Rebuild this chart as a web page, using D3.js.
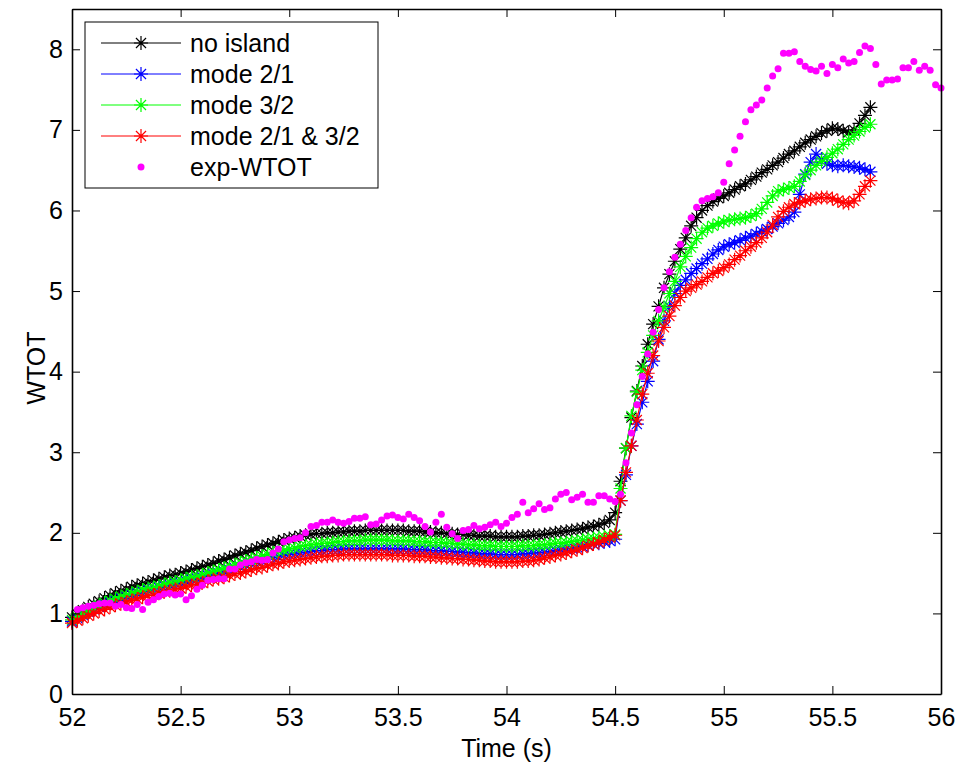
<!DOCTYPE html>
<html>
<head>
<meta charset="utf-8">
<script src="https://cdn.jsdelivr.net/npm/d3@7"></script>
<style>
  body { margin: 0; background: #fff; }
  svg { display: block; }
  text { font-family: "Liberation Sans", Arial, sans-serif; fill: #000; }
</style>
</head>
<body>
<svg id="chart"></svg>
<script>
// ======================
// DATA
// ======================

// sample times, 0.025 s apart; simulations use [0..147], experiment uses [1..160]
const timeAxis = [
  52.000, 52.025, 52.050, 52.075, 52.100, 52.125, 52.150, 52.175,
  52.200, 52.225, 52.250, 52.275, 52.300, 52.325, 52.350, 52.375,
  52.400, 52.425, 52.450, 52.475, 52.500, 52.525, 52.550, 52.575,
  52.600, 52.625, 52.650, 52.675, 52.700, 52.725, 52.750, 52.775,
  52.800, 52.825, 52.850, 52.875, 52.900, 52.925, 52.950, 52.975,
  53.000, 53.025, 53.050, 53.075, 53.100, 53.125, 53.150, 53.175,
  53.200, 53.225, 53.250, 53.275, 53.300, 53.325, 53.350, 53.375,
  53.400, 53.425, 53.450, 53.475, 53.500, 53.525, 53.550, 53.575,
  53.600, 53.625, 53.650, 53.675, 53.700, 53.725, 53.750, 53.775,
  53.800, 53.825, 53.850, 53.875, 53.900, 53.925, 53.950, 53.975,
  54.000, 54.025, 54.050, 54.075, 54.100, 54.125, 54.150, 54.175,
  54.200, 54.225, 54.250, 54.275, 54.300, 54.325, 54.350, 54.375,
  54.400, 54.425, 54.450, 54.475, 54.500, 54.525, 54.550, 54.575,
  54.600, 54.625, 54.650, 54.675, 54.700, 54.725, 54.750, 54.775,
  54.800, 54.825, 54.850, 54.875, 54.900, 54.925, 54.950, 54.975,
  55.000, 55.025, 55.050, 55.075, 55.100, 55.125, 55.150, 55.175,
  55.200, 55.225, 55.250, 55.275, 55.300, 55.325, 55.350, 55.375,
  55.400, 55.425, 55.450, 55.475, 55.500, 55.525, 55.550, 55.575,
  55.600, 55.625, 55.650, 55.675, 55.700, 55.725, 55.750, 55.775,
  55.800, 55.825, 55.850, 55.875, 55.900, 55.925, 55.950, 55.975,
  56.000
];

const noIsland = [
  0.95, 0.99, 1.04, 1.08, 1.12, 1.15, 1.19, 1.22, 1.25, 1.28, 1.30, 1.33,
  1.35, 1.37, 1.39, 1.41, 1.43, 1.45, 1.47, 1.48, 1.50, 1.52, 1.54, 1.56,
  1.58, 1.60, 1.62, 1.65, 1.67, 1.69, 1.72, 1.74, 1.76, 1.78, 1.81, 1.83,
  1.85, 1.87, 1.89, 1.91, 1.93, 1.94, 1.96, 1.97, 1.98, 1.99, 1.99, 2.00,
  2.00, 2.01, 2.01, 2.02, 2.02, 2.02, 2.03, 2.03, 2.03, 2.03, 2.03, 2.03,
  2.03, 2.03, 2.02, 2.02, 2.02, 2.01, 2.01, 2.00, 2.00, 1.99, 1.99, 1.98,
  1.98, 1.97, 1.97, 1.96, 1.96, 1.96, 1.95, 1.95, 1.95, 1.95, 1.95, 1.96,
  1.96, 1.97, 1.97, 1.98, 1.99, 2.00, 2.01, 2.02, 2.03, 2.04, 2.05, 2.07,
  2.08, 2.10, 2.12, 2.16, 2.25, 2.64, 3.05, 3.43, 3.76, 4.07, 4.34, 4.59,
  4.81, 5.04, 5.21, 5.37, 5.52, 5.66, 5.81, 5.91, 6.00, 6.06, 6.11, 6.15,
  6.18, 6.22, 6.26, 6.30, 6.33, 6.38, 6.42, 6.47, 6.51, 6.56, 6.60, 6.65,
  6.70, 6.74, 6.79, 6.84, 6.88, 6.92, 6.96, 6.99, 7.02, 7.01, 6.99, 6.97,
  7.00, 7.08, 7.18, 7.28
];

const mode21 = [
  0.90, 0.94, 0.98, 1.02, 1.05, 1.08, 1.11, 1.14, 1.16, 1.19, 1.21, 1.23,
  1.25, 1.27, 1.29, 1.31, 1.32, 1.34, 1.35, 1.37, 1.38, 1.40, 1.42, 1.43,
  1.45, 1.47, 1.49, 1.50, 1.52, 1.54, 1.56, 1.58, 1.60, 1.62, 1.64, 1.65,
  1.67, 1.69, 1.70, 1.72, 1.73, 1.74, 1.75, 1.76, 1.77, 1.78, 1.78, 1.79,
  1.79, 1.79, 1.80, 1.80, 1.80, 1.80, 1.80, 1.80, 1.80, 1.80, 1.80, 1.80,
  1.80, 1.80, 1.79, 1.79, 1.79, 1.79, 1.78, 1.78, 1.78, 1.77, 1.77, 1.76,
  1.76, 1.75, 1.75, 1.74, 1.74, 1.74, 1.73, 1.73, 1.73, 1.73, 1.73, 1.74,
  1.74, 1.75, 1.75, 1.76, 1.77, 1.78, 1.79, 1.80, 1.81, 1.82, 1.83, 1.85,
  1.86, 1.87, 1.89, 1.90, 1.92, 2.40, 2.72, 3.08, 3.35, 3.62, 3.88, 4.13,
  4.40, 4.63, 4.81, 4.97, 5.07, 5.14, 5.22, 5.28, 5.34, 5.40, 5.46, 5.51,
  5.55, 5.58, 5.60, 5.63, 5.66, 5.68, 5.71, 5.74, 5.77, 5.80, 5.84, 5.88,
  5.92, 5.98, 6.20, 6.45, 6.60, 6.70, 6.64, 6.58, 6.56, 6.55, 6.56, 6.55,
  6.54, 6.53, 6.51, 6.48
];

const mode32 = [
  0.92, 0.96, 1.00, 1.04, 1.07, 1.10, 1.13, 1.16, 1.18, 1.21, 1.23, 1.25,
  1.27, 1.29, 1.31, 1.32, 1.34, 1.36, 1.38, 1.39, 1.41, 1.43, 1.45, 1.46,
  1.48, 1.50, 1.52, 1.54, 1.56, 1.58, 1.60, 1.63, 1.65, 1.67, 1.69, 1.71,
  1.73, 1.75, 1.77, 1.78, 1.80, 1.81, 1.83, 1.84, 1.85, 1.86, 1.87, 1.87,
  1.88, 1.89, 1.89, 1.90, 1.90, 1.90, 1.91, 1.91, 1.91, 1.91, 1.91, 1.90,
  1.90, 1.90, 1.90, 1.89, 1.89, 1.89, 1.88, 1.88, 1.88, 1.87, 1.87, 1.86,
  1.86, 1.85, 1.85, 1.84, 1.84, 1.84, 1.83, 1.83, 1.83, 1.83, 1.83, 1.84,
  1.84, 1.84, 1.85, 1.85, 1.86, 1.87, 1.87, 1.88, 1.89, 1.90, 1.91, 1.92,
  1.93, 1.94, 1.95, 1.96, 1.98, 2.55, 3.05, 3.45, 3.75, 4.02, 4.24, 4.45,
  4.63, 4.80, 4.97, 5.12, 5.30, 5.43, 5.54, 5.65, 5.73, 5.78, 5.81, 5.84,
  5.86, 5.88, 5.89, 5.90, 5.91, 5.93, 5.96, 6.02, 6.10, 6.18, 6.24, 6.26,
  6.28, 6.30, 6.36, 6.44, 6.50, 6.56, 6.61, 6.66, 6.71, 6.76, 6.82, 6.88,
  6.93, 6.98, 7.03, 7.07
];

const mode21and32 = [
  0.88, 0.91, 0.94, 0.97, 1.00, 1.03, 1.05, 1.08, 1.10, 1.12, 1.14, 1.16,
  1.18, 1.20, 1.22, 1.23, 1.25, 1.27, 1.28, 1.30, 1.31, 1.33, 1.35, 1.36,
  1.38, 1.40, 1.42, 1.43, 1.45, 1.47, 1.49, 1.50, 1.52, 1.54, 1.56, 1.57,
  1.59, 1.61, 1.62, 1.64, 1.65, 1.66, 1.67, 1.68, 1.69, 1.70, 1.71, 1.71,
  1.72, 1.72, 1.73, 1.73, 1.73, 1.73, 1.73, 1.73, 1.73, 1.73, 1.73, 1.72,
  1.72, 1.72, 1.72, 1.71, 1.71, 1.71, 1.70, 1.70, 1.69, 1.69, 1.68, 1.68,
  1.67, 1.67, 1.66, 1.66, 1.65, 1.65, 1.64, 1.64, 1.64, 1.64, 1.64, 1.65,
  1.65, 1.66, 1.67, 1.69, 1.70, 1.72, 1.73, 1.75, 1.77, 1.79, 1.81, 1.84,
  1.86, 1.88, 1.91, 1.94, 1.97, 2.40, 2.75, 3.08, 3.40, 3.72, 3.98, 4.20,
  4.38, 4.55, 4.69, 4.82, 4.92, 5.00, 5.04, 5.08, 5.12, 5.17, 5.22, 5.25,
  5.29, 5.33, 5.39, 5.44, 5.50, 5.55, 5.60, 5.66, 5.73, 5.82, 5.92, 5.99,
  6.04, 6.08, 6.10, 6.12, 6.14, 6.15, 6.16, 6.16, 6.15, 6.12, 6.10, 6.09,
  6.12, 6.20, 6.30, 6.37
];

const expWtot = [
  1.05, 1.07, 1.09, 1.10, 1.12, 1.13, 1.13, 1.09, 1.11, 1.07, 1.06, 1.11,
  1.05, 1.14, 1.17, 1.21, 1.24, 1.25, 1.23, 1.24, 1.17, 1.22, 1.30, 1.35,
  1.41, 1.42, 1.43, 1.43, 1.55, 1.55, 1.60, 1.63, 1.64, 1.67, 1.66, 1.67,
  1.75, 1.80, 1.89, 1.91, 1.93, 1.94, 2.00, 2.08, 2.09, 2.13, 2.13, 2.16,
  2.13, 2.12, 2.14, 2.18, 2.18, 2.20, 2.10, 2.11, 2.16, 2.21, 2.22, 2.19,
  2.17, 2.23, 2.19, 2.15, 2.08, 2.01, 2.13, 2.23, 2.07, 1.99, 1.93, 2.03,
  2.04, 2.09, 2.05, 2.07, 2.10, 2.13, 2.08, 2.12, 2.19, 2.23, 2.38, 2.25,
  2.30, 2.36, 2.29, 2.31, 2.42, 2.48, 2.50, 2.41, 2.44, 2.48, 2.38, 2.38,
  2.46, 2.46, 2.42, 2.39, 2.48, 2.87, 3.24, 3.59, 3.94, 4.22, 4.49, 4.77,
  5.04, 5.24, 5.42, 5.58, 5.75, 5.91, 6.04, 6.12, 6.15, 6.17, 6.22, 6.35,
  6.58, 6.75, 6.92, 7.10, 7.25, 7.31, 7.37, 7.52, 7.67, 7.76, 7.95, 7.95,
  7.97, 7.85, 7.79, 7.75, 7.73, 7.79, 7.70, 7.81, 7.77, 7.88, 7.83, 7.85,
  7.96, 8.04, 8.01, 7.81, 7.57, 7.62, 7.62, 7.63, 7.77, 7.77, 7.85, 7.74,
  7.79, 7.74, 7.56, 7.52
];

const xTicks = [52, 52.5, 53, 53.5, 54, 54.5, 55, 55.5, 56];
const yTicks = [0, 1, 2, 3, 4, 5, 6, 7, 8];
const seriesNames = ["no island", "mode 2/1", "mode 3/2", "mode 2/1 & 3/2", "exp-WTOT"];
const seriesColors = ["#000000", "#0000ff", "#00ff00", "#ff0000", "#ff00ff"];

// ======================
// SETUP
// ======================

const width = 962;
const height = 769;
const margin = { top: 9, right: 21, bottom: 75, left: 72 };
const innerWidth = width - margin.left - margin.right;
const innerHeight = height - margin.top - margin.bottom;
const fontSize = 25;

const svg = d3.select("#chart")
    .attr("width", width)
    .attr("height", height)
    .attr("viewBox", `0 0 ${width} ${height}`);

const g = svg.append("g")
    .attr("transform", `translate(${margin.left},${margin.top})`);

const x = d3.scaleLinear().domain([52, 56]).range([0, innerWidth]);
const y = d3.scaleLinear().domain([0, 8.5]).range([innerHeight, 0]);

// asterisk marker like matlab '*'
function asterisk(r) {
    const d = r * 0.72;
    return `M${-r},0H${r}M0,${-r}V${r}M${-d},${-d}L${d},${d}M${-d},${d}L${d},${-d}`;
}
const starPath = asterisk(7);

// ======================
// SERIES
// ======================

const simSeries = [noIsland, mode21, mode32, mode21and32].map((vals, i) => ({
    name: seriesNames[i],
    color: seriesColors[i],
    points: vals.map((v, j) => ({ t: timeAxis[j], v: v }))
}));
const expPoints = expWtot.map((v, k) => ({ t: timeAxis[k + 1], v: v }));

const line = d3.line()
    .x(d => x(d.t))
    .y(d => y(d.v));

simSeries.forEach(s => {
    const sg = g.append("g").attr("class", "series");
    sg.append("path")
        .datum(s.points)
        .attr("fill", "none")
        .attr("stroke", s.color)
        .attr("stroke-width", 1.2)
        .attr("d", line);
    sg.selectAll("path.star")
        .data(s.points)
        .enter()
        .append("path")
        .attr("class", "star")
        .attr("transform", d => `translate(${x(d.t)},${y(d.v)})`)
        .attr("d", starPath)
        .attr("fill", "none")
        .attr("stroke", s.color)
        .attr("stroke-width", 1.2);
});

g.append("g").selectAll("circle")
    .data(expPoints)
    .enter()
    .append("circle")
    .attr("cx", d => x(d.t))
    .attr("cy", d => y(d.v))
    .attr("r", 3.5)
    .attr("fill", seriesColors[4]);

// ======================
// AXES (box with inward ticks on all sides)
// ======================

const bottomAxis = g.append("g")
    .attr("transform", `translate(0,${innerHeight})`)
    .call(d3.axisBottom(x).tickValues(xTicks).tickSizeInner(-8).tickSizeOuter(0)
        .tickPadding(14).tickFormat(d3.format("")));
const leftAxis = g.append("g")
    .call(d3.axisLeft(y).tickValues(yTicks).tickSizeInner(-8).tickSizeOuter(0)
        .tickPadding(9).tickFormat(d3.format("d")));
const topAxis = g.append("g")
    .call(d3.axisTop(x).tickValues(xTicks).tickSizeInner(-8).tickSizeOuter(0).tickFormat(""));
const rightAxis = g.append("g")
    .attr("transform", `translate(${innerWidth},0)`)
    .call(d3.axisRight(y).tickValues(yTicks).tickSizeInner(-8).tickSizeOuter(0).tickFormat(""));

[bottomAxis, leftAxis, topAxis, rightAxis].forEach(a => {
    a.select(".domain").attr("stroke", "#000").attr("stroke-width", 1.6);
    a.selectAll(".tick line").attr("stroke", "#000").attr("stroke-width", 1);
    a.selectAll(".tick text")
        .attr("font-size", fontSize)
        .attr("font-family", "Liberation Sans, Arial, sans-serif")
        .attr("fill", "#000");
});

// axis titles
svg.append("text")
    .attr("x", margin.left + innerWidth / 2)
    .attr("y", 757)
    .attr("text-anchor", "middle")
    .attr("font-size", fontSize)
    .text("Time (s)");

svg.append("text")
    .attr("transform", "translate(45,368) rotate(-90)")
    .attr("text-anchor", "middle")
    .attr("font-size", fontSize)
    .text("WTOT");

// ======================
// LEGEND
// ======================

const legend = svg.append("g");
legend.append("rect")
    .attr("x", 85).attr("y", 22)
    .attr("width", 293).attr("height", 166)
    .attr("fill", "#fff")
    .attr("stroke", "#000")
    .attr("stroke-width", 1);

const legendRows = [43, 74, 105, 136, 167];
seriesNames.forEach((name, i) => {
    const row = legend.append("g").attr("transform", `translate(0,${legendRows[i]})`);
    if (i < 4) {
        row.append("line")
            .attr("x1", 101).attr("x2", 181)
            .attr("y1", 0).attr("y2", 0)
            .attr("stroke", seriesColors[i])
            .attr("stroke-width", 1);
        row.append("path")
            .attr("transform", "translate(141,0)")
            .attr("d", starPath)
            .attr("fill", "none")
            .attr("stroke", seriesColors[i])
            .attr("stroke-width", 1.2);
    } else {
        row.append("circle")
            .attr("cx", 141).attr("cy", 0)
            .attr("r", 3.5)
            .attr("fill", seriesColors[i]);
    }
    row.append("text")
        .attr("x", 190)
        .attr("y", 9)
        .attr("font-size", fontSize)
        .text(name);
});
</script>
</body>
</html>
